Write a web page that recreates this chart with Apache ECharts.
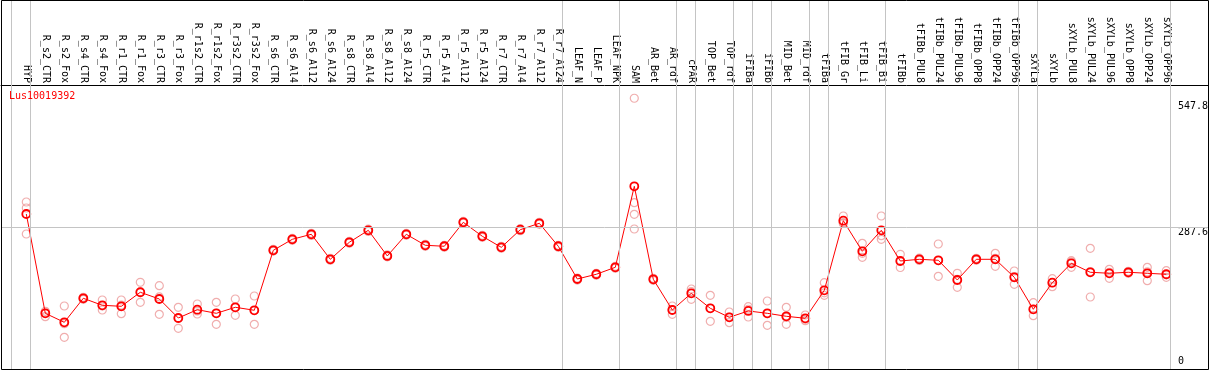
<!DOCTYPE html>
<html><head><meta charset="utf-8">
<script src="https://cdn.jsdelivr.net/npm/echarts@6/dist/echarts.min.js"></script>
<style>html,body{margin:0;padding:0;background:#fff}#c{width:1209px;height:370px}</style>
</head><body><div id="c"></div>
<script>
const geneName = 'Lus10019392';
const categories = ['HYP','R_s2_CTR','R_s2_Fox','R_s4_CTR','R_s4_Fox','R_r1_CTR','R_r1_Fox','R_r3_CTR','R_r3_Fox','R_r1s2_CTR','R_r1s2_Fox','R_r3s2_CTR','R_r3s2_Fox','R_s6_CTR','R_s6_Al4','R_s6_Al12','R_s6_Al24','R_s8_CTR','R_s8_Al4','R_s8_Al12','R_s8_Al24','R_r5_CTR','R_r5_Al4','R_r5_Al12','R_r5_Al24','R_r7_CTR','R_r7_Al4','R_r7_Al12','R_r7_Al24','LEAF_N','LEAF_P','LEAF_NPK','SAM','AR_Bet','AR_rdf','cPAR','TOP_Bet','TOP_rdf','iFIBa','iFIBb','MID_Bet','MID_rdf','tFIBa','tFIB_Gr','tFIB_Li','tFIB_Bi','tFIBb','tFIBb_PUL8','tFIBb_PUL24','tFIBb_PUL96','tFIBb_OPP8','tFIBb_OPP24','tFIBb_OPP96','sXYLa','sXYLb','sXYLb_PUL8','sXYLb_PUL24','sXYLb_PUL96','sXYLb_OPP8','sXYLb_OPP24','sXYLb_OPP96'];
const meanValues = [315.1,115.4,97.3,145.6,131.5,129.5,157.7,144.2,106.0,122.7,115.4,127.5,121.5,242.1,264.2,274.3,224.0,258.2,282.3,230.7,274.3,252.2,250.2,298.4,270.3,248.1,283.5,296.4,250.2,184.4,193.9,207.9,370.8,183.8,122.1,155.6,125.5,107.4,120.1,115.4,109.4,105.4,161.7,301.6,240.1,282.3,220.6,224.0,222.0,182.4,224.0,224.0,187.8,123.5,177.0,216.0,197.9,195.9,197.9,195.9,193.9];
const replicateValues = [
  [339.2,327.2,274.9],[119.4,108.6,116.0],[130.1,67.2,94.6],[147.6,143.6,145.6],[142.2,122.1,130.2],
  [142.2,114.6,131.7],[177.8,137.5,157.8],[170.9,113.4,148.3],[127.5,85.3,105.2],[134.1,114.0,120.0],
  [137.5,93.3,115.4],[144.2,111.4,126.9],[150.2,93.3,121.0],[244.0,240.5,241.8],[266.0,262.1,264.5],
  [276.2,272.0,274.7],[226.1,222.3,223.6],[260.0,256.4,258.2],[284.5,280.1,282.3],[232.8,228.9,230.4],
  [276.0,272.4,274.5],[254.3,250.0,252.3],[252.1,248.4,250.1],[300.2,296.5,298.5],[272.4,268.1,270.4],
  [250.0,246.2,248.1],[285.6,281.4,283.5],[298.3,294.6,296.3],[252.0,248.3,250.3],[186.3,182.2,184.7],
  [195.8,191.9,194.0],[209.9,206.0,207.8],[547.8,337.8,314.5,284.9],[185.9,181.7,183.8],[130.1,113.4,122.8],
  [164.3,143.6,158.9],[151.6,99.3,125.6],[118.0,96.5,107.7],[128.7,108.0,123.6],[140.2,91.3,114.7],
  [127.5,93.3,107.4],[112.0,100.5,103.7],[177.0,151.6,156.5],[311.1,297.6,296.1],[256.2,228.0,236.1],
  [311.1,264.2,271.6],[234.1,207.5,220.2],[226.3,221.8,224.0],[254.8,189.8,221.4],[195.9,167.7,183.6],
  [226.0,222.1,223.9],[236.1,209.9,226.0],[200.5,173.7,189.2],[136.7,110.6,123.2],[185.0,168.9,177.1],
  [221.2,207.9,218.9],[246.1,148.2,199.4],[203.9,185.8,198.0],[199.9,195.9,197.9],[207.9,181.0,198.8],
  [201.1,187.8,192.8]
];
// index of the last category of each sample group (-1 = before first)
const groupEnds = [-1,0,28,31,34,35,37,38,39,41,42,45,52,53,60];
const yTickValues = [0, 287.6, 547.8];
const yTickLabels = ['0', '287.6', '547.8'];
const refLineValue = 287.6;

const FONT = 'DejaVu Sans Mono';
const PX_PER_CAT = 19;
const lineOffset = 4 / PX_PER_CAT;
const X_MIN = -1.332, X_MAX = 62.195;

const meanData = meanValues.map((v, i) => [i, v]);
const repData = [];
replicateValues.forEach((reps, i) => reps.forEach(v => repData.push([i, v])));

const chart = echarts.init(document.getElementById('c'), null, {renderer: 'canvas'});
const labelStyleKeys = ['lo', 'mid', 'hi'];
chart.setOption({
  animation: false,
  backgroundColor: '#fff',
  title: {
    text: geneName, left: 9, top: 91, padding: 0,
    textStyle: {color: '#ff0000', fontSize: 10, fontFamily: FONT, fontWeight: 'normal'}
  },
  grid: [
    {left: 1, right: 1, top: 0, bottom: -0.7, containLabel: false, outerBoundsMode: 'none'},
    {left: 1, right: 1, top: 85, bottom: -0.7, containLabel: false, outerBoundsMode: 'none'}
  ],
  xAxis: [
    {
      gridIndex: 0, type: 'value', min: X_MIN, max: X_MAX, show: false
    },
    {
      gridIndex: 1, type: 'value', position: 'top',
      min: X_MIN, max: X_MAX,
      axisLine: {show: true, onZero: false, lineStyle: {color: '#000', width: 1}},
      axisTick: {show: false},
      splitLine: {show: false},
      axisLabel: {
        customValues: categories.map((_, i) => i),
        formatter: v => categories[Math.round(v)] || '',
        rotate: 90, margin: 2, fontFamily: FONT, fontSize: 10, color: '#000',
        showMinLabel: true, showMaxLabel: true, hideOverlap: false
      }
    }
  ],
  yAxis: [
    {
      gridIndex: 0, type: 'value', position: 'right', offset: -33,
      min: 0, max: 745.4,
      axisLine: {show: false, onZero: false}, axisTick: {show: false}, splitLine: {show: false},
      axisLabel: {
        customValues: yTickValues,
        formatter: v => {
          const k = yTickValues.indexOf(v);
          return k < 0 ? '' : '{' + labelStyleKeys[k] + '|' + yTickLabels[k] + '}';
        },
        margin: 3, color: '#000', fontFamily: FONT, fontSize: 10,
        rich: {
          lo: {padding: [0, 0, 18, 0], fontFamily: FONT, fontSize: 10, color: '#000'},
          mid: {padding: [10, 0, 0, 0], fontFamily: FONT, fontSize: 10, color: '#000'},
          hi: {padding: [17, 0, 0, 0], fontFamily: FONT, fontSize: 10, color: '#000'}
        }
      }
    },
    {gridIndex: 1, type: 'value', min: 0, max: 1, show: false}
  ],
  graphic: [{
    type: 'rect', z: 100, silent: true,
    shape: {x: 1.5, y: 0.5, width: 1207, height: 369},
    style: {fill: 'none', stroke: '#000', lineWidth: 1}
  }],
  series: [
    {
      type: 'line', data: [], silent: true, z: 1, xAxisIndex: 0, yAxisIndex: 0,
      markLine: {
        silent: true, symbol: ['none', 'none'], label: {show: false},
        lineStyle: {color: '#c4c4c4', width: 1, type: 'solid'},
        emphasis: {disabled: true},
        data: groupEnds.map(g => ({xAxis: g + lineOffset})).concat([{yAxis: refLineValue}])
      }
    },
    {type: 'line', data: [], silent: true, xAxisIndex: 1, yAxisIndex: 1},
    {
      type: 'scatter', name: 'replicates', data: repData, z: 2, clip: false,
      xAxisIndex: 0, yAxisIndex: 0,
      symbol: 'circle', symbolSize: 8,
      itemStyle: {color: 'rgba(0,0,0,0)', borderColor: '#ec9a9a', borderWidth: 1.2}
    },
    {
      type: 'line', name: geneName, data: meanData, z: 3, clip: false,
      xAxisIndex: 0, yAxisIndex: 0,
      symbol: 'circle', symbolSize: 8,
      lineStyle: {color: '#ff0000', width: 1},
      itemStyle: {color: 'rgba(0,0,0,0)', borderColor: '#ff0000', borderWidth: 1.8}
    }
  ]
});
</script>
</body></html>
